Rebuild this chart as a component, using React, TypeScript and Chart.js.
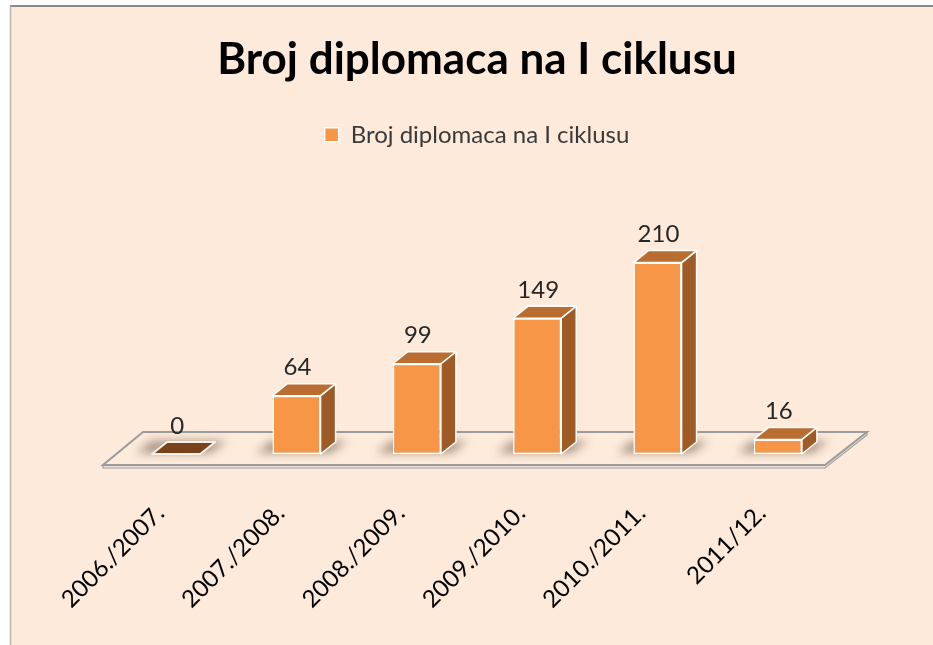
import React, { useEffect, useRef } from 'react';
import { Chart, registerables } from 'chart.js';

Chart.register(...registerables);

const chartTitle = 'Broj diplomaca na I ciklusu';
const seriesName = 'Broj diplomaca na I ciklusu';
const categories = ['2006./2007.', '2007./2008.', '2008./2009.', '2009./2010.', '2010./2011.', '2011/12.'];
const values = [0, 64, 99, 149, 210, 16];

const FRONT = '#F79646';
const SIDE = '#9E5B26';
const TOP = '#BA6D30';
const ZERO = '#7A4219';
const BG = '#FDEADA';
const DX = 15;
const DY = -12;

const framePlugin = {
  id: 'frame',
  beforeDraw(chart: any) {
    const { ctx, width, height } = chart;
    ctx.save();
    ctx.fillStyle = '#ffffff';
    ctx.fillRect(0, 0, width, height);
    ctx.fillStyle = BG;
    ctx.fillRect(10, 6, width - 10, height - 6);
    ctx.strokeStyle = '#8a8a8a';
    ctx.lineWidth = 2;
    ctx.beginPath();
    ctx.moveTo(10, 6);
    ctx.lineTo(width, 6);
    ctx.stroke();
    ctx.strokeStyle = '#b8b8b8';
    ctx.lineWidth = 1.5;
    ctx.beginPath();
    ctx.moveTo(10.5, 6);
    ctx.lineTo(10.5, height);
    ctx.stroke();
    ctx.restore();
  },
};

function poly(ctx: any, pts: number[][]) {
  ctx.beginPath();
  ctx.moveTo(pts[0][0], pts[0][1]);
  for (let i = 1; i < pts.length; i++) ctx.lineTo(pts[i][0], pts[i][1]);
  ctx.closePath();
}

const threeDPlugin = {
  id: 'threeD',
  beforeDatasetsDraw(chart: any) {
    const { ctx, chartArea } = chart;
    const { left, right } = chartArea;
    const base = chart.scales.y.getPixelForValue(0);
    const fl = [left - 13, base + 11];
    const fr = [right - 13, base + 11];
    const br = [right + 29, base - 22];
    const bl = [left + 27, base - 22];
    ctx.save();
    // floor slab thickness
    poly(ctx, [fl, fr, br, [br[0], br[1] + 3], [fr[0], fr[1] + 3], [fl[0], fl[1] + 3]]);
    ctx.fillStyle = '#ece4dc';
    ctx.fill();
    ctx.strokeStyle = '#a0a0a0';
    ctx.lineWidth = 1.2;
    ctx.stroke();
    poly(ctx, [fl, fr, br, bl]);
    ctx.fillStyle = '#fdebdc';
    ctx.fill();
    ctx.strokeStyle = '#9c9c9c';
    ctx.lineWidth = 2;
    ctx.stroke();

    const meta = chart.getDatasetMeta(0);
    // shadows
    meta.data.forEach((bar: any) => {
      const { x, width } = bar.getProps(['x', 'width'], true);
      const l = x - width / 2;
      const r = x + width / 2;
      ctx.save();
      ctx.filter = 'blur(5px)';
      ctx.fillStyle = 'rgba(70,45,25,0.45)';
      poly(ctx, [[l - 16, base - 1], [r + 10, base - 1], [r + DX + 12, base + DY - 1], [l + DX - 16, base + DY - 1]]);
      ctx.fill();
      ctx.restore();
    });

    meta.data.forEach((bar: any, i: number) => {
      const { x, y, base: b, width } = bar.getProps(['x', 'y', 'base', 'width'], true);
      const l = x - width / 2;
      const r = x + width / 2;
      ctx.lineWidth = 1.5;
      ctx.strokeStyle = '#ffffff';
      ctx.lineJoin = 'round';
      if (values[i] === 0) {
        poly(ctx, [[l, b], [r, b], [r + DX, b + DY], [l + DX, b + DY]]);
        ctx.fillStyle = ZERO;
        ctx.fill();
        ctx.lineWidth = 2;
        ctx.strokeStyle = '#f4f0ec';
        ctx.stroke();
        return;
      }
      // side
      poly(ctx, [[r, y], [r + DX, y + DY], [r + DX, b + DY], [r, b]]);
      ctx.fillStyle = SIDE;
      ctx.fill();
      ctx.stroke();
      // top
      poly(ctx, [[l, y], [r, y], [r + DX, y + DY], [l + DX, y + DY]]);
      ctx.fillStyle = TOP;
      ctx.fill();
      ctx.stroke();
    });
    ctx.restore();
  },
  afterDatasetsDraw(chart: any) {
    const { ctx } = chart;
    const meta = chart.getDatasetMeta(0);
    ctx.save();
    ctx.fillStyle = '#262626';
    ctx.font = '24px Lato';
    ctx.textAlign = 'center';
    ctx.textBaseline = 'middle';
    meta.data.forEach((bar: any, i: number) => {
      const { x, y } = bar.getProps(['x', 'y'], true);
      ctx.fillText(String(values[i]), x + 1, y + DY - 16);
    });
    ctx.restore();
  },
};

export default function App() {
  const ref = useRef<HTMLCanvasElement | null>(null);
  useEffect(() => {
    if (!ref.current) return;
    const chart = new Chart(ref.current, {
      type: 'bar',
      data: {
        labels: categories,
        datasets: [
          {
            label: seriesName,
            data: values,
            backgroundColor: FRONT,
            borderColor: '#ffffff',
            borderWidth: 1.5,
            borderSkipped: false,
            barPercentage: 0.4,
            categoryPercentage: 1,
          },
        ],
      },
      options: {
        responsive: false,
        animation: false,
        layout: { padding: { left: 116, right: 95, top: 0, bottom: 0 } },
        plugins: {
          title: {
            display: true,
            text: chartTitle,
            color: '#000000',
            font: { family: 'Lato', size: 44, weight: 'bold', lineHeight: 1.2 },
            padding: { top: 33, bottom: 27 },
          },
          legend: {
            display: true,
            position: 'top',
            labels: {
              boxWidth: 14,
              boxHeight: 14,
              color: '#3a3a3a',
              font: { family: 'Lato', size: 24 },
              padding: 10,
            },
          },
          tooltip: { enabled: false },
        },
        scales: {
          x: {
            grid: { display: false, drawTicks: false },
            border: { display: false },
            ticks: {
              color: '#000000',
              font: { family: 'Lato', size: 24 },
              minRotation: 45,
              maxRotation: 45,
              padding: 45,
              labelOffset: -16,
              autoSkip: false,
            },
            afterFit: (s: any) => {
              s.height = 191;
            },
          },
          y: { display: false, min: 0, max: 326 },
        },
      },
      plugins: [framePlugin, threeDPlugin],
    });
    return () => chart.destroy();
  }, []);
  return (
    <div style={{ position: 'fixed', left: 0, top: 0, width: 933, height: 645 }}>
      <canvas ref={ref} width={933} height={645} style={{ display: 'block' }} />
    </div>
  );
}
